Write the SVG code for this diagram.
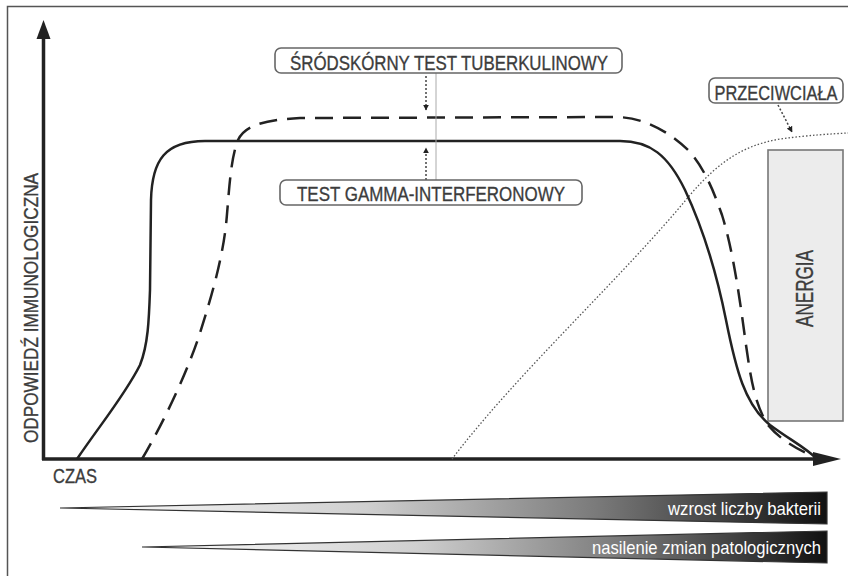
<svg xmlns="http://www.w3.org/2000/svg" width="848" height="576" viewBox="0 0 848 576">
<style>
.t{font-family:"Liberation Sans Narrow","Liberation Sans",Arial,sans-serif;fill:#3c3c3c;stroke:#3c3c3c;stroke-width:0.35;font-size:21px}
.w{font-family:"Liberation Sans Narrow","Liberation Sans",Arial,sans-serif;fill:#ffffff;font-size:18.5px}
.box{fill:#fff;stroke:#666;stroke-width:1.6}
.axis{stroke:#222;stroke-width:3.5;fill:none}
.solid{stroke:#222;stroke-width:2.5;fill:none}
.dash{stroke:#222;stroke-width:2.5;fill:none;stroke-dasharray:18 10}
.dot{stroke:#555;stroke-width:1.3;fill:none;stroke-dasharray:1.5 2}
.ptr{stroke:#444;stroke-width:1.5;fill:none;stroke-dasharray:2 2}
.wedge{stroke:#333;stroke-width:1.2}
</style>
<defs>
<marker id="ah" viewBox="0 0 10 10" refX="9" refY="5" markerWidth="6" markerHeight="7" markerUnits="userSpaceOnUse" orient="auto">
<path d="M0,0 L10,5 L0,10 Z" fill="#222"/>
</marker>
<linearGradient id="grad" x1="0" y1="0" x2="1" y2="0">
<stop offset="0" stop-color="#ffffff"/>
<stop offset="0.4" stop-color="#cfcfcf"/>
<stop offset="0.7" stop-color="#7a7a7a"/>
<stop offset="1" stop-color="#111111"/>
</linearGradient>
</defs>
<rect x="0" y="0" width="848" height="576" fill="#fff"/>
<rect x="7.5" y="6.5" width="860" height="590" fill="none" stroke="#555" stroke-width="1.5"/>

<g id="axes">
<path class="axis" d="M43.5,460 L43.5,36"/>
<polygon points="43.5,20 36.5,39 50.5,39" fill="#222"/>
<path class="axis" d="M42,459 L815,459"/>
<polygon points="841,459 813,452 813,466" fill="#222"/>
<text class="t" x="53" y="483" textLength="44" lengthAdjust="spacingAndGlyphs">CZAS</text>
<text class="t" transform="translate(38,443) rotate(-90)" x="0" y="0" textLength="270" lengthAdjust="spacingAndGlyphs">ODPOWIEDŹ IMMUNOLOGICZNA</text>
</g>

<g id="anergia">
<rect x="768" y="150" width="75" height="271" fill="#ececec" stroke="#777" stroke-width="1.6"/>
<text class="t" style="font-size:23px" transform="translate(813,327) rotate(-90)" x="0" y="0" textLength="77" lengthAdjust="spacingAndGlyphs">ANERGIA</text>
</g>

<g id="curves">
<path class="dot" d="M452,459 C520,370 620,280 690,195 C720,160 745,145 780,139 C810,135 830,134 848,133"/>
<path class="solid" d="M77,459 C100,425 125,395 140,365 C148,345 149,320 150,290 L151,200 C152,160 165,141 205,141 L620,141 C650,141 668,155 685,190 C700,222 715,265 726,320 C736,370 745,405 770,425 C790,440 805,447 817,459"/>
<path class="dash" d="M142,459 C165,420 188,370 200,333 C212,295 222,260 226,225 C229,195 230,160 238,140 C245,125 265,120 300,118 L615,117 C640,117 665,128 688,150 C705,168 715,195 722,215 C733,250 740,300 746,345 C751,380 755,405 768,425 C785,445 805,452 818,459"/>
</g>

<g id="connectors">
<line x1="436" y1="73" x2="436" y2="180" stroke="#aaa" stroke-width="1"/>
<line class="ptr" x1="426" y1="76" x2="426" y2="110" marker-end="url(#ah)"/>
<line class="ptr" x1="426" y1="180" x2="426" y2="148" marker-end="url(#ah)"/>
<line class="ptr" x1="778" y1="105" x2="792" y2="132" marker-end="url(#ah)"/>
</g>

<g id="tuberkulinowy">
<rect class="box" x="275" y="48" width="347" height="25" rx="6"/>
<text class="t" x="290" y="70" textLength="318" lengthAdjust="spacingAndGlyphs">ŚRÓDSKÓRNY TEST TUBERKULINOWY</text>
</g>

<g id="gamma">
<rect class="box" x="280" y="180" width="302" height="25" rx="6"/>
<text class="t" x="297" y="201" textLength="268" lengthAdjust="spacingAndGlyphs">TEST GAMMA-INTERFERONOWY</text>
</g>

<g id="przeciwciala">
<rect class="box" x="709" y="78" width="134" height="25" rx="6"/>
<text class="t" transform="translate(776,100) scale(0.78,1)" x="0" y="0" text-anchor="middle">PRZECIWCIAŁA</text>
</g>

<g id="bakterie">
<polygon class="wedge" points="60,508 827,492 827,524" fill="url(#grad)"/>
<text class="w" x="668" y="515" textLength="153" lengthAdjust="spacingAndGlyphs">wzrost liczby bakterii</text>
</g>

<g id="zmiany">
<polygon class="wedge" points="142,547 827,531 827,563" fill="url(#grad)"/>
<text class="w" x="592" y="554" textLength="229" lengthAdjust="spacingAndGlyphs">nasilenie zmian patologicznych</text>
</g>
</svg>
